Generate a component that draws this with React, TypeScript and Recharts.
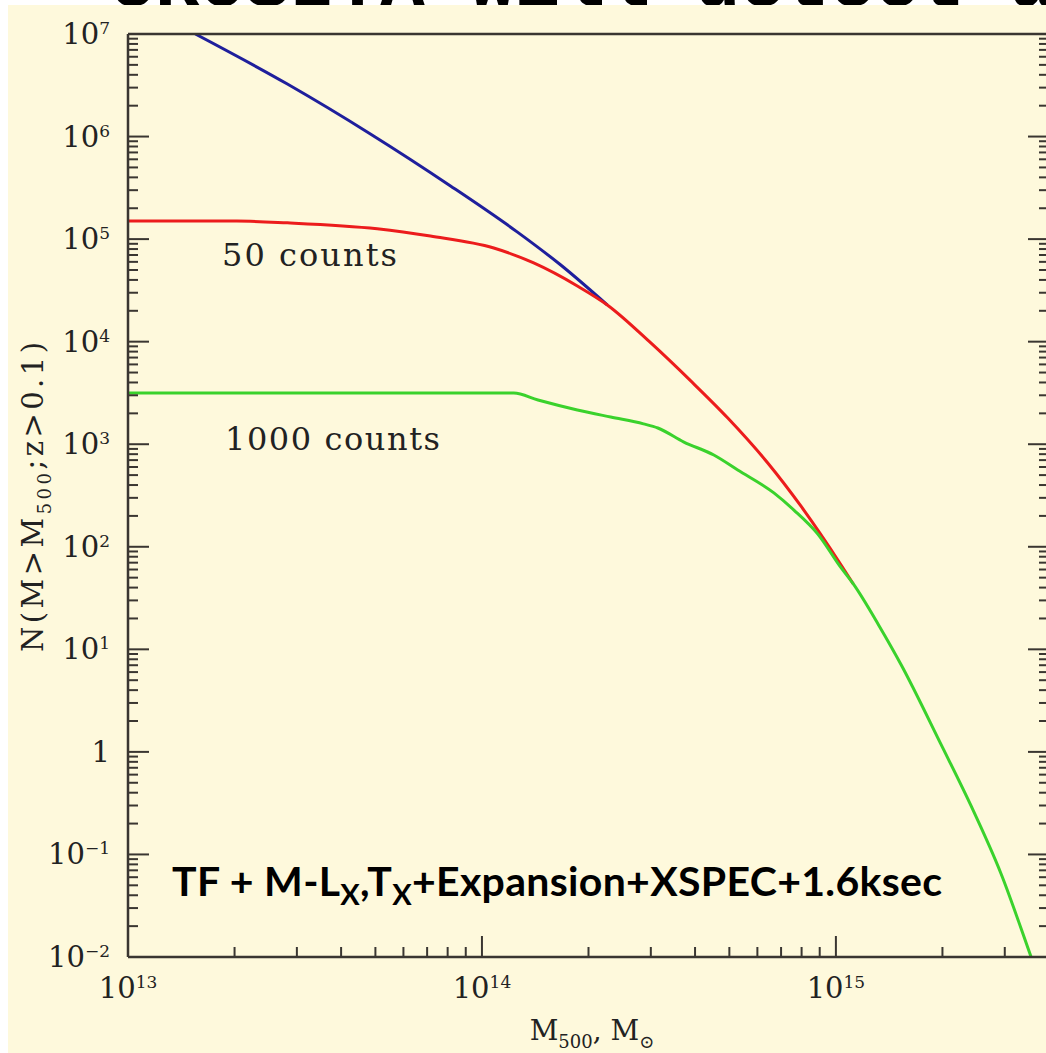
import React from "react";
import { LineChart, Line, XAxis, YAxis } from "recharts";

// cumulative counts N(>M500; z>0.1), masses in solar masses
const allMass = [1.55e13, 2.82e13, 4.84e13, 8.15e13, 1.26e14, 1.67e14, 2.26e14];
const allCount = [1.0e7, 3.25e6, 1.06e6, 3.3e5, 1.17e5, 5.59e4, 2.28e4];

const counts50Mass = [1e13, 2.03e13, 2.82e13, 5.06e13, 7.15e13, 1.08e14, 1.4e14, 1.86e14, 2.26e14, 3.0e14, 3.89e14, 4.95e14, 6.42e14, 7.96e14, 1.03e15, 1.12e15];
const counts50Count = [1.5e5, 1.5e5, 1.44e5, 1.26e5, 1.07e5, 8.18e4, 5.85e4, 3.49e4, 2.28e4, 9.71e3, 4.14e3, 1.8e3, 656, 250, 68, 43.4];

const counts1000Mass = [1e13, 1.23e14, 1.44e14, 1.86e14, 2.31e14, 2.86e14, 3.14e14, 3.72e14, 4.52e14, 5.28e14, 6.68e14, 7.61e14, 8.89e14, 1.03e15, 1.12e15, 1.32e15, 1.53e15, 1.98e15, 2.41e15, 2.93e15, 3.56e15, 3.93e15];
const counts1000Count = [3.16e3, 3.16e3, 2.7e3, 2.16e3, 1.84e3, 1.58e3, 1.44e3, 1.05e3, 785, 561, 335, 228, 133, 63.6, 43.4, 17.3, 7.04, 1.19, 0.297, 0.0645, 0.01, 0.0038];

const xDecades = [13, 14, 15];
const yDecades = [-2, -1, 0, 1, 2, 3, 4, 5, 6, 7];
const minorSteps = [1, 2, 3, 4, 5, 6, 7, 8, 9];
const xDomain = [1e13, 4e15];
const yDomain = [1e-2, 1e7];

const zip = (ms: number[], ns: number[]) => ms.map((m, i) => ({ m, n: ns[i] }));
const allData = zip(allMass, allCount);
const data50 = zip(counts50Mass, counts50Count);
const data1000 = zip(counts1000Mass, counts1000Count);

const xTicks = xDecades.flatMap((d) => minorSteps.map((k) => k * 10 ** d)).filter((v) => v <= xDomain[1]);
const yTicks = yDecades.flatMap((d) => minorSteps.map((k) => k * 10 ** d)).filter((v) => v <= yDomain[1]);

const INK = "#3a3631";
const CREAM = "#fef9dc";
const SERIF = "'DejaVu Serif', serif";

const isMajor = (v: number) => Math.abs(Math.log10(v) - Math.round(Math.log10(v))) < 1e-6;
const expOf = (v: number) => Math.round(Math.log10(v));
const expText = (e: number) => (e < 0 ? "\u2212" + Math.abs(e) : String(e));

function BottomTick({ x, y, payload }: any) {
  const v = payload.value;
  const major = isMajor(v);
  return (
    <g>
      <line x1={x} y1={y} x2={x} y2={y - (major ? 21 : 10)} stroke={INK} strokeWidth={2} />
      {major && (
        <text x={x} y={y + 41} textAnchor="middle" fontFamily={SERIF} fontSize={29} fill="#222">
          <tspan>10</tspan>
          <tspan dy={-10} fontSize={17}>{expText(expOf(v))}</tspan>
        </text>
      )}
    </g>
  );
}

function TopTick({ x, y, payload }: any) {
  const major = isMajor(payload.value);
  return <line x1={x} y1={y} x2={x} y2={y + (major ? 21 : 10)} stroke={INK} strokeWidth={2} />;
}

function LeftTick({ x, y, payload }: any) {
  const v = payload.value;
  const major = isMajor(v);
  const e = expOf(v);
  return (
    <g>
      <line x1={x} y1={y} x2={x + (major ? 21 : 10)} y2={y} stroke={INK} strokeWidth={2} />
      {major && (
        <text x={x - 18} y={y + 10} textAnchor="end" fontFamily={SERIF} fontSize={29} fill="#222">
          {e === 0 ? (
            <tspan>1</tspan>
          ) : (
            <>
              <tspan>10</tspan>
              <tspan dy={-10} fontSize={17}>{expText(e)}</tspan>
            </>
          )}
        </text>
      )}
    </g>
  );
}

function RightTick({ x, y, payload }: any) {
  const major = isMajor(payload.value);
  return <line x1={x} y1={y} x2={x - (major ? 21 : 10)} y2={y} stroke={INK} strokeWidth={2} />;
}

export default function App() {
  return (
    <div style={{ position: "absolute", left: 0, top: 0, width: 1046, height: 1053, overflow: "hidden", background: "#fff" }}>
      <svg width={1046} height={12} style={{ position: "absolute", left: 0, top: 0 }}>
        <text x={110} y={6} fontFamily="'Liberation Mono', monospace" fontWeight="bold" fontSize={75} fill="#000">
          eROSITA will detect an
        </text>
      </svg>
      <div style={{ position: "absolute", left: 8, top: 5, width: 1038, height: 1048, background: CREAM }} />
      <div style={{ position: "absolute", left: 0, top: 0 }}>
        <LineChart width={1060} height={1053} margin={{ top: 0, right: 0, bottom: 0, left: 0 }}>
          <XAxis
            dataKey="m"
            type="number"
            scale="log"
            domain={xDomain}
            allowDataOverflow
            ticks={xTicks}
            interval={0}
            tickSize={0}
            tickMargin={0}
            tickLine={false}
            tick={BottomTick}
            height={96}
            axisLine={{ stroke: INK, strokeWidth: 2.5 }}
          />
          <XAxis
            xAxisId="top"
            orientation="top"
            type="number"
            scale="log"
            domain={xDomain}
            allowDataOverflow
            ticks={xTicks}
            interval={0}
            tickSize={0}
            tickMargin={0}
            tickLine={false}
            tick={TopTick}
            height={34}
            axisLine={{ stroke: INK, strokeWidth: 2.5 }}
          />
          <YAxis
            dataKey="n"
            type="number"
            scale="log"
            domain={yDomain}
            allowDataOverflow
            ticks={yTicks}
            interval={0}
            tickSize={0}
            tickMargin={0}
            tickLine={false}
            tick={LeftTick}
            width={128}
            axisLine={{ stroke: INK, strokeWidth: 2.5 }}
          />
          <YAxis
            yAxisId="right"
            orientation="right"
            type="number"
            scale="log"
            domain={yDomain}
            allowDataOverflow
            ticks={yTicks}
            interval={0}
            tickSize={0}
            tickMargin={0}
            tickLine={false}
            tick={RightTick}
            width={11}
            axisLine={{ stroke: INK, strokeWidth: 2.5 }}
          />
          <Line data={allData} dataKey="n" type="monotone" stroke="#1f1f9c" strokeWidth={3} dot={false} isAnimationActive={false} />
          <Line data={data50} dataKey="n" type="monotone" stroke="#ec1c1c" strokeWidth={3} dot={false} isAnimationActive={false} />
          <Line data={data1000} dataKey="n" type="monotone" stroke="#3ad22c" strokeWidth={3} dot={false} isAnimationActive={false} />
        </LineChart>
      </div>
      <svg width={1046} height={1053} style={{ position: "absolute", left: 0, top: 0, pointerEvents: "none" }}>
        <text x={222} y={266} fontFamily={SERIF} fontSize={32} fill="#222" textLength={175} lengthAdjust="spacing">50 counts</text>
        <text x={225} y={450} fontFamily={SERIF} fontSize={32} fill="#222" textLength={215} lengthAdjust="spacing">1000 counts</text>
        <text x={172} y={896} fontFamily="Lato, sans-serif" fontWeight="bold" fontSize={41} fill="#000" textLength={770} lengthAdjust="spacing">
          <tspan>TF + M-L</tspan>
          <tspan dy={9} fontSize={29}>X</tspan>
          <tspan dy={-9}>,T</tspan>
          <tspan dy={9} fontSize={29}>X</tspan>
          <tspan dy={-9}>+Expansion+XSPEC+1.6ksec</tspan>
        </text>
        <text x={592} y={1040} textAnchor="middle" fontFamily={SERIF} fontSize={28} fill="#222">
          <tspan>M</tspan>
          <tspan dy={8} fontSize={18}>500</tspan>
          <tspan dy={-8}>,  M</tspan>
          <tspan dy={8} fontSize={18}>{"\u2299"}</tspan>
        </text>
        <text transform="translate(43,497) rotate(-90)" textAnchor="middle" fontFamily={SERIF} fontSize={29} fill="#222" textLength={310} lengthAdjust="spacing">
          <tspan>N(M&gt;M</tspan>
          <tspan dy={8} fontSize={18}>500</tspan>
          <tspan dy={-8}>;z&gt;0.1)</tspan>
        </text>
      </svg>
    </div>
  );
}
